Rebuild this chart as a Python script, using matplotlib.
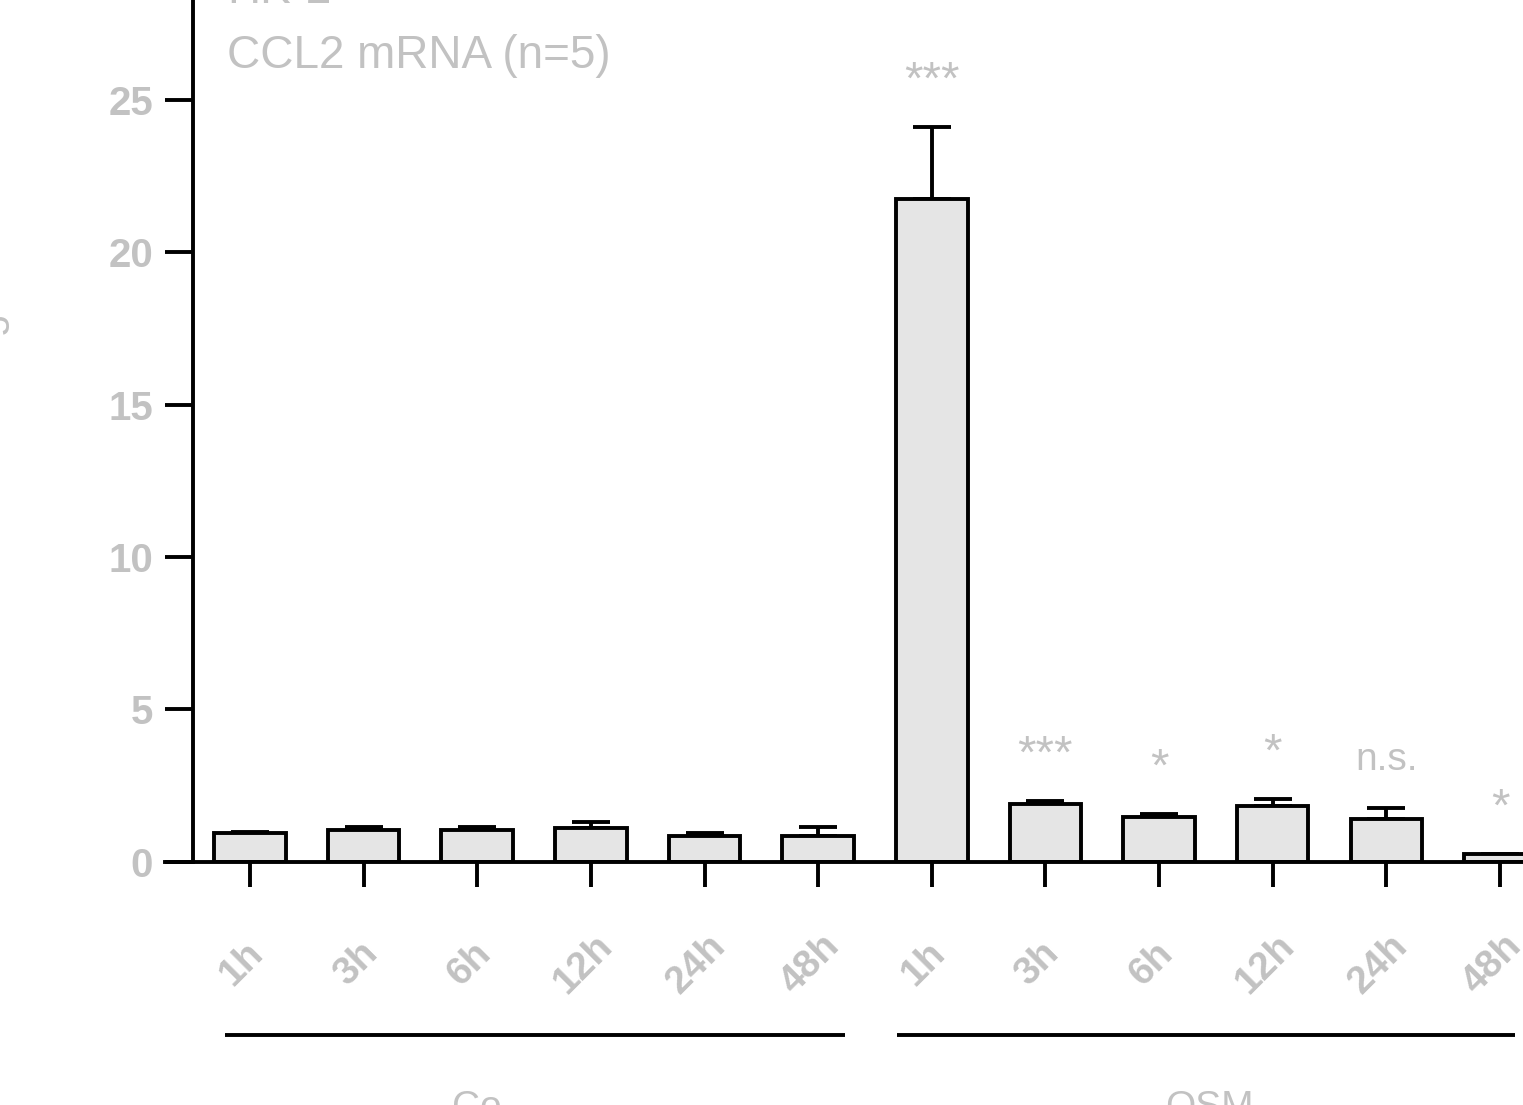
import matplotlib
matplotlib.use("Agg")
import matplotlib.pyplot as plt
import matplotlib.transforms as mtransforms
import numpy as np

# ---- data ----
time_labels = ["1h", "3h", "6h", "12h", "24h", "48h"]
groups = ["Co", "OSM"]
co_mean = [0.95, 1.02, 1.02, 1.10, 0.85, 0.85]
co_err = [0.02, 0.10, 0.10, 0.20, 0.10, 0.27]
osm_mean = [21.77, 1.90, 1.46, 1.82, 1.38, 0.23]
osm_err = [2.36, 0.08, 0.10, 0.23, 0.38, 0.02]
osm_sig = ["***", "***", "*", "*", "n.s.", "*"]
title_lines = ["HK-2", "CCL2 mRNA (n=5)"]
ylabel = "Fold change"
yticks = [0, 5, 10, 15, 20, 25]

plt.rcParams['font.family'] = ['Liberation Sans', 'DejaVu Sans']
GRAY = '#c2c2c2'
LW = 2.8

means = co_mean + osm_mean
errs = co_err + osm_err
labels = time_labels + time_labels
x = np.arange(len(means))

fig = plt.figure(figsize=(15.23, 11.05), dpi=100)
ax = fig.add_axes([0.10834, 0.22036, 0.9213, 0.8267])
ax.set_xlim(-0.748, 11.6)
ax.set_ylim(0, 30)

ax.errorbar(x, means, yerr=[np.zeros(len(errs)), errs], fmt='none',
            ecolor='black', elinewidth=LW, capsize=14, capthick=LW, zorder=1)
ax.bar(x, means, width=0.63, color='#e5e5e5', edgecolor='black',
       linewidth=LW, zorder=2)

for sp in ['top', 'right']:
    ax.spines[sp].set_visible(False)
ax.spines['left'].set_position(('data', -0.5))
ax.spines['left'].set_linewidth(LW)
ax.spines['bottom'].set_linewidth(LW)
ax.spines['bottom'].set_zorder(3)

ax.set_yticks(yticks)
ax.set_yticklabels([str(v) for v in yticks], fontsize=29, fontweight='bold', color=GRAY)
ax.tick_params(axis='y', length=20, width=LW, pad=9)

ax.set_xticks(x)
ax.set_xticklabels(labels, fontsize=28, fontweight='bold', color=GRAY,
                   rotation=45, ha='center', va='center', rotation_mode='anchor')
ax.tick_params(axis='x', length=18, width=LW, pad=56)
shift = mtransforms.ScaledTranslation(-0.08, 0, fig.dpi_scale_trans)
for lab in ax.get_xticklabels():
    lab.set_transform(lab.get_transform() + shift)

# significance marks
for i, s in enumerate(osm_sig):
    xi = len(co_mean) + i
    fs = 34 if s.startswith('*') else 28
    ax.annotate(s, (xi, osm_mean[i] + osm_err[i]), xytext=(0, 24 if fs == 34 else 27),
                textcoords='offset points', ha='center', va='baseline',
                fontsize=fs, color=GRAY)

# group lines and labels
trans = mtransforms.blended_transform_factory(ax.transData, ax.transAxes)
group_spans = [(-0.22, 5.24), (5.69, 11.13)]
group_label_x = [2.0, 8.44]
for (a, b), gx, g in zip(group_spans, group_label_x, groups):
    ax.plot([a, b], [-0.1897, -0.1897], transform=trans, color='black',
            lw=LW, clip_on=False, solid_capstyle='butt')
    ax.text(gx, -0.2499, g, transform=trans, ha='center', va='top',
            fontsize=28, color=GRAY)

# title texts (partially cropped, as in the reference)
fig.text(227 / 1523, 1 - 3 / 1105, title_lines[0], fontsize=33, color=GRAY,
         ha='left', va='baseline')
fig.text(227 / 1523, 1 - 68 / 1105, title_lines[1], fontsize=33, color=GRAY,
         ha='left', va='baseline')

# y label (cropped off at the left edge)
fig.text(1 / 1523, 1 - 405 / 1105, ylabel, fontsize=30, color=GRAY,
         rotation=90, rotation_mode='anchor', ha='center', va='baseline')

fig.savefig('out.png', dpi=100)
